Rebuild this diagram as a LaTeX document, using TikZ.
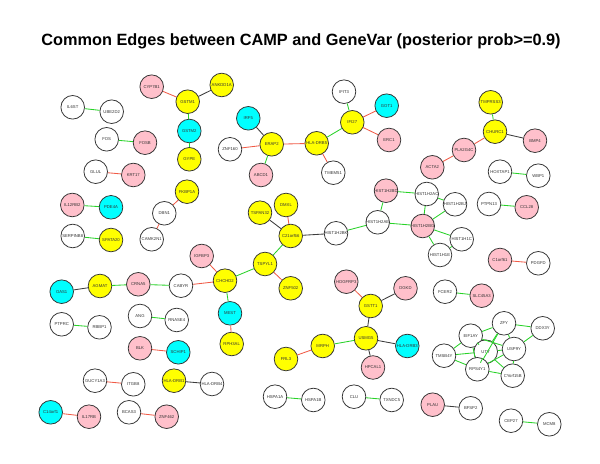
\documentclass[tikz,border=0pt]{standalone}
\usepackage{fontspec}
\setmainfont{Liberation Sans}
\usepackage{tikz}

\definecolor{geneyel}{RGB}{255,255,0}
\definecolor{genecyan}{RGB}{0,255,255}
\definecolor{genepink}{RGB}{255,192,203}
\definecolor{linkgreen}{RGB}{40,210,40}
\definecolor{linkred}{RGB}{240,90,70}
\definecolor{linkdark}{RGB}{60,60,60}

\begin{document}
\begin{tikzpicture}[x=0.025cm,y=-0.025cm]
		\tikzstyle{gene}=[circle, draw=black!80, line width=0.55pt, minimum size=5.9mm, inner sep=0pt, font=\fontsize{3}{3.5}\selectfont, text=black!80]
		\tikzstyle{w}=[gene, fill=white]
		\tikzstyle{yel}=[gene, fill=geneyel]
		\tikzstyle{cy}=[gene, fill=genecyan]
		\tikzstyle{pk}=[gene, fill=genepink]
		\tikzstyle{g link}=[draw=linkgreen, line width=0.6pt]
		\tikzstyle{r link}=[draw=linkred, line width=0.6pt]
		\tikzstyle{k link}=[draw=linkdark, line width=0.6pt]

		\useasboundingbox (0,0) rectangle (600,464);
		\node (title) at (301,41) {\fontsize{11.6}{13}\selectfont\bfseries Common Edges between CAMP and GeneVar (posterior prob>=0.9)};

		% GSTM block
		\node [pk] (cyp7b1) at (151.7,86.7) {CYP7B1};
		\node [yel] (gstm1) at (187.7,101.7) {GSTM1}
		edge [r link] (cyp7b1);
		\node [yel] (ankdd1a) at (221.7,85) {ANKDD1A}
		edge [k link] (gstm1);
		\node [cy] (gstm2) at (189.3,131) {GSTM2}
		edge [g link] (gstm1);
		\node [yel] (gype) at (189.3,159.3) {GYPE}
		edge [g link] (gstm2);

		\node [w] (il6st) at (72.7,107.3) {IL6ST};
		\node [w] (ube2d2) at (111.7,111.7) {UBE2D2}
		edge [g link] (il6st);
		\node [w] (fos) at (106.7,139.3) {FOS};
		\node [pk] (fosb) at (145,142.7) {FOSB}
		edge [g link] (fos);
		\node [w] (glul) at (95.7,171.7) {GLUL};
		\node [pk] (krt17) at (133.3,175) {KRT17}
		edge [r link] (glul);

		% HLA-DRB5 block
		\node [cy] (irf5) at (248.3,118.3) {IRF5};
		\node [w] (znf160) at (230,149.3) {ZNF160};
		\node [yel] (erap2) at (271.7,144.3) {ERAP2}
		edge [k link] (irf5)
		edge [r link] (znf160);
		\node [pk] (abcd1) at (261,175) {ABCD1}
		edge [g link] (erap2);
		\node [yel] (hladrb5) at (316.7,143.3) {HLA-DRB5}
		edge [r link] (erap2);
		\node [w] (tmem51) at (333.3,172.7) {TMEM51}
		edge [r link] (hladrb5);
		\node [w] (ifit3) at (344,91.7) {IFIT3};
		\node [yel] (ifi27) at (352.3,122.3) {IFI27}
		edge [g link] (hladrb5)
		edge [g link] (ifit3);
		\node [cy] (got1) at (386.7,105.7) {GOT1}
		edge [r link] (ifi27);
		\node [pk] (erc1) at (389,140) {ERC1}
		edge [r link] (ifi27);

		% CHURC1 block
		\node [yel] (tmprss3) at (490.7,102.3) {TMPRSS3};
		\node [yel] (churc1) at (495,131.7) {CHURC1}
		edge [g link] (tmprss3);
		\node [pk] (bmp4) at (535,140.7) {BMP4}
		edge [k link] (churc1);
		\node [pk] (pla2g4c) at (464,150) {PLA2G4C}
		edge [r link] (churc1);
		\node [pk] (acta2) at (432.3,167.3) {ACTA2}
		edge [r link] (pla2g4c);
		\node [w] (hoxtap1) at (500,171.7) {HOXTAP1};
		\node [w] (wbp1) at (538.3,175.7) {WBP1}
		edge [g link] (hoxtap1);

		% histones
		\node [pk] (h2bd) at (386,190.7) {HIST1H2BD};
		\node [w] (h2ac) at (426.7,194) {HIST1H2AC}
		edge [g link] (h2bd);
		\node [w] (h2bj) at (455,204.3) {HIST1H2BJ}
		edge [g link] (h2ac);
		\node [w] (h2ae) at (377.7,222.3) {HIST1H2AE}
		edge [g link] (h2bd);
		\node [pk] (h2bg) at (422.7,226) {HIST1H2BG}
		edge [g link] (h2ac)
		edge [g link] (h2bj)
		edge [g link] (h2ae);
		\node [w] (h1c) at (461.7,239.3) {HIST1H1C}
		edge [g link] (h2bg);
		\node [w] (h1e) at (440,255) {HIST1H1E}
		edge [g link] (h2bg)
		edge [g link] (h1c);
		\node [w] (h2bk) at (336,233.3) {HIST1H2BK}
		edge [g link] (h2ae);

		\node [w] (ptpn13) at (489,204) {PTPN13};
		\node [pk] (ccl28) at (526.7,207.3) {CCL28}
		edge [g link] (ptpn13);
		\node [pk] (c1orf61) at (500,260) {C1orf61};
		\node [w] (pdgfd) at (538.3,263.3) {PDGFD}
		edge [r link] (c1orf61);
		\node [w] (fcer2) at (445,291.7) {FCER2};
		\node [pk] (slc45a3) at (481.7,295.7) {SLC45A3}
		edge [g link] (fcer2);

		% chromosome Y block
		\node [w] (zfy) at (504,323.3) {ZFY};
		\node [w] (ddx3y) at (542.7,328.3) {DDX3Y}
		edge [g link] (zfy);
		\node [w] (eif1ay) at (470.7,335.7) {EIF1AY}
		edge [g link] (zfy);
		\node [w] (tmsb4y) at (444,355.7) {TMSB4Y}
		edge [g link] (eif1ay);
		\node [w] (uty) at (485.7,351.7) {UTY}
		edge [g link] (zfy)
		edge [g link] (eif1ay)
		edge [g link] (tmsb4y);
		\node [w] (usp9y) at (514,349) {USP9Y}
		edge [g link] (zfy)
		edge [g link] (ddx3y)
		edge [g link] (eif1ay)
		edge [g link] (uty);
		\node [w] (rps4y1) at (477.3,369.3) {RPS4Y1}
		edge [g link] (tmsb4y)
		edge [g link] (eif1ay)
		edge [g link] (uty)
		edge [g link] (usp9y)
		edge [g link] (zfy);
		\node [w] (cyorf15b) at (512.7,375.7) {CYorf15B}
		edge [g link] (usp9y)
		edge [g link] (uty)
		edge [g link] (rps4y1);
		\node [pk] (plau) at (432.7,404.7) {PLAU};
		\node [w] (bfsp2) at (470.7,408.3) {BFSP2}
		edge [k link] (plau);
		\node [w] (cep27) at (511,420.7) {CEP27};
		\node [w] (mcm8) at (549.3,424.3) {MCM8}
		edge [g link] (cep27);

		% GSTT1 block
		\node [pk] (hdgfrp3) at (346.3,281.7) {HDGFRP3};
		\node [pk] (dgkd) at (405.5,288.3) {DGKD};
		\node [yel] (gstt1) at (370.7,306) {GSTT1}
		edge [r link] (hdgfrp3)
		edge [k link] (dgkd);
		\node [yel] (usmg5) at (366,338.3) {USMG5}
		edge [k link] (gstt1);
		\node [cy] (hladrb3) at (407.3,346) {HLA-DRB3}
		edge [k link] (usmg5);
		\node [pk] (hpcal1) at (373,367.5) {HPCAL1}
		edge [k link] (usmg5);
		\node [yel] (mrph) at (322.7,346) {MRPH}
		edge [g link] (usmg5);
		\node [yel] (frl3) at (286,359) {FRL3}
		edge [r link] (mrph);

		\node [w] (hspa1a) at (275,396.7) {HSPA1A};
		\node [w] (hspa1b) at (313.3,400) {HSPA1B}
		edge [g link] (hspa1a);
		\node [w] (clu) at (354,396.7) {CLU};
		\node [w] (txndc5) at (391.7,400) {TXNDC5}
		edge [g link] (clu);

		% C21orf66 block
		\node [yel] (dmxl) at (286,205) {DMXL};
		\node [yel] (tspan32) at (260,212.7) {TSPAN32};
		\node [yel] (c21orf66) at (290.7,236) {C21orf66}
		edge [r link] (dmxl)
		edge [k link] (tspan32)
		edge [k link] (h2bk);
		\node [yel] (tspyl1) at (265,264) {TSPYL1}
		edge [g link] (c21orf66);
		\node [yel] (znf502) at (290.7,288.3) {ZNF502}
		edge [r link] (tspyl1);
		\node [pk] (igfbp3) at (201.7,256) {IGFBP3};
		\node [w] (cabyr) at (181,285.7) {CABYR};
		\node [yel] (chchd2) at (225,280.7) {CHCHD2}
		edge [g link] (tspyl1)
		edge [r link] (igfbp3)
		edge [r link] (cabyr);
		\node [cy] (mest) at (230,313.3) {MEST}
		edge [g link] (chchd2);
		\node [yel] (rph3al) at (231.7,344) {RPH3AL}
		edge [r link] (mest);

		% left side
		\node [pk] (il12rb2) at (72.3,205) {IL12RB2};
		\node [cy] (pde4a) at (111,207.3) {PDE4A}
		edge [g link] (il12rb2);
		\node [w] (serpinb8) at (72.7,236) {SERPINB8};
		\node [yel] (spata20) at (111,240) {SPATA20}
		edge [g link] (serpinb8);
		\node [yel] (fkbp1a) at (187,191.7) {FKBP1A};
		\node [w] (dbn1) at (164.3,213.3) {DBN1}
		edge [r link] (fkbp1a);
		\node [w] (camk2n1) at (151.7,239.3) {CAMK2N1}
		edge [r link] (dbn1);
		\node [cy] (oas1) at (61.7,291.7) {OAS1};
		\node [yel] (agmat) at (100,286) {AGMAT}
		edge [k link] (oas1);
		\node [pk] (crna5) at (138.3,284.3) {CRNA5}
		edge [g link] (agmat)
		edge [g link] (cabyr);
		\node [w] (ang) at (140,316) {ANG};
		\node [w] (rnase4) at (176.7,320) {RNASE4}
		edge [g link] (ang);
		\node [w] (ptprc) at (61.7,324.3) {PTPRC};
		\node [w] (rbbp1) at (99.5,327.3) {RBBP1}
		edge [g link] (ptprc);

		\node [pk] (blk) at (140,348.3) {BLK};
		\node [cy] (schip1) at (178.3,352.3) {SCHIP1}
		edge [r link] (blk);
		\node [w] (gucy1a3) at (95,380.7) {GUCY1A3};
		\node [w] (itgb8) at (133.3,384.3) {ITGB8}
		edge [r link] (gucy1a3);
		\node [yel] (hladrb1) at (174,380.7) {HLA-DRB1};
		\node [w] (hladrb4) at (212,384) {HLA-DRB4}
		edge [k link] (hladrb1);
		\node [cy] (c14orf1) at (50.7,412.3) {C14orf1};
		\node [pk] (il17rb) at (89,416.7) {IL17RB}
		edge [r link] (c14orf1);
		\node [w] (bcas3) at (129,412.3) {BCAS3};
		\node [pk] (znf462) at (166.7,416.7) {ZNF462}
		edge [r link] (bcas3);
	\end{tikzpicture}
\end{document}
